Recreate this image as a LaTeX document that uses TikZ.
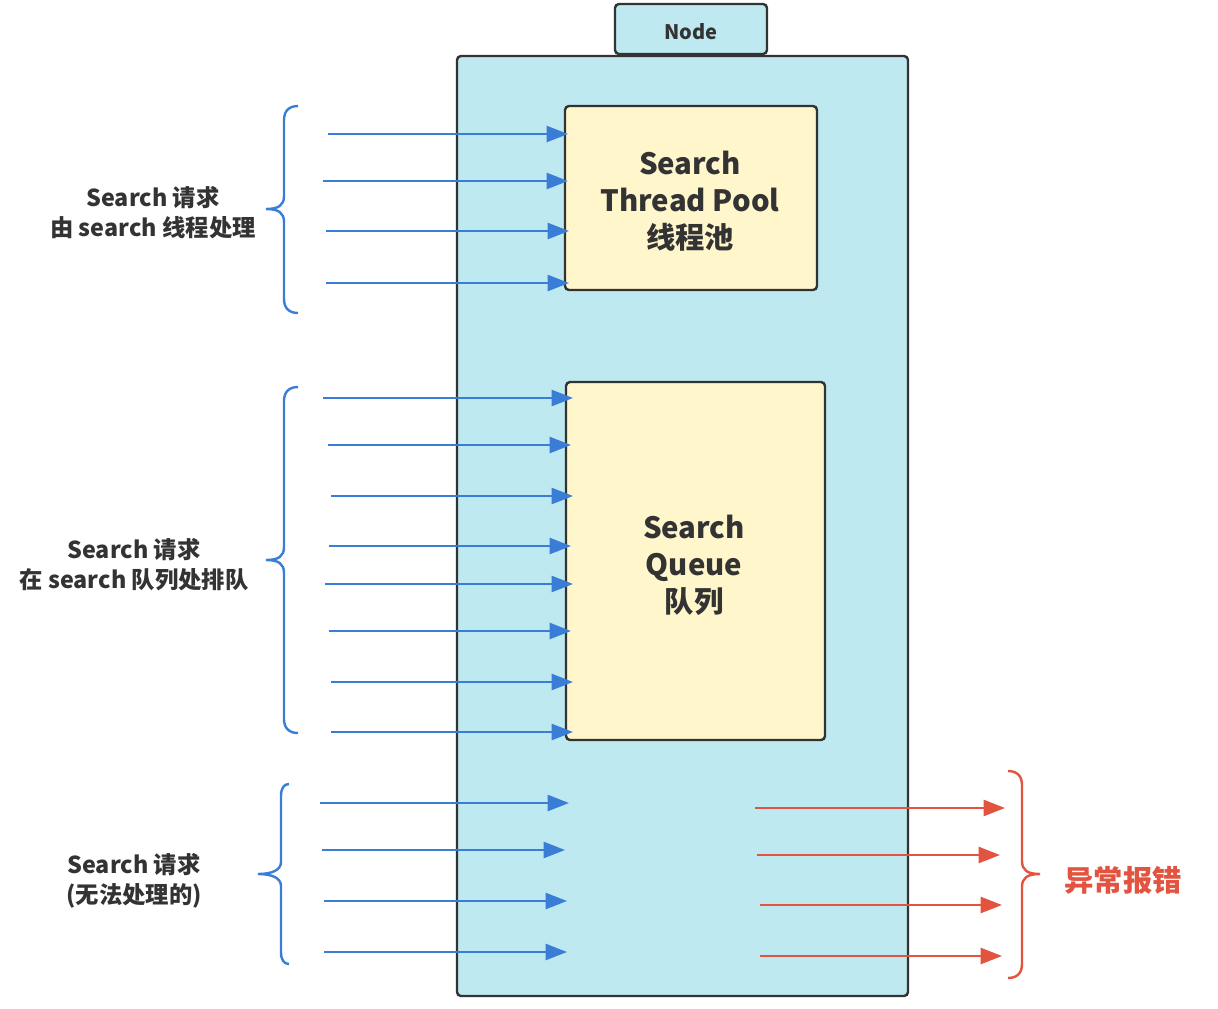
\documentclass[tikz,border=0pt]{standalone}
\usepackage{fontspec}
\setmainfont{Noto Sans CJK SC}
\usetikzlibrary{arrows.meta}

\definecolor{hostcyan}{RGB}{190,233,240}
\definecolor{poolyellow}{RGB}{255,246,204}
\definecolor{edgegray}{RGB}{51,51,51}
\definecolor{reqblue}{RGB}{58,125,214}
\definecolor{rejred}{RGB}{226,83,64}

\tikzset{every picture/.style={line width=0.75pt}}
\tikzset{
  box/.style={draw=edgegray, line width=1.8pt, rounded corners=3pt},
  reqarrow/.style={draw=reqblue, line width=1.8pt, -{Triangle[length=16pt,width=12pt]}, fill=reqblue},
  rejarrow/.style={draw=rejred, line width=1.8pt, -{Triangle[length=16pt,width=12pt]}, fill=rejred},
  reqbrace/.style={draw=reqblue, line width=1.8pt},
  rejbrace/.style={draw=rejred, line width=1.8pt},
  boxtext/.style={font=\bfseries\fontsize{22}{27.75}\selectfont, text=edgegray, align=center},
  sidetext/.style={font=\bfseries\fontsize{17.5}{22.5}\selectfont, text=edgegray, align=center},
}

\begin{document}
\begin{tikzpicture}[x=0.75pt,y=0.75pt,yscale=-1,xscale=1]

\fill [white] (0,0) rectangle (1218,1008) ;
\useasboundingbox (0,0) rectangle (1218,1008) ;

\draw  [box, fill=hostcyan]  (615,4) rectangle (767,54) ;
\draw  [box, fill=hostcyan]  (457,56) rectangle (908,996) ;
\draw  [box, fill=poolyellow]  (565,106) rectangle (817,290) ;
\draw  [box, fill=poolyellow]  (566,382) rectangle (825,740) ;

\node [boxtext, font=\bfseries\fontsize{15}{18}\selectfont] (nodetag) at (691,32) {Node};
\node [boxtext] (pool) at (690,201) {Search\\Thread Pool\\线程池};
\node [boxtext] (queue) at (694,565) {Search\\Queue\\队列};

\node [sidetext] (handled) at (153,213) {Search 请求\\由 search 线程处理};
\node [sidetext] (queued) at (134,565) {Search 请求\\在 search 队列处排队};
\node [sidetext] (refused) at (134,881) {Search 请求\\(无法处理的)};
\node [boxtext, text=rejred] (error) at (1123,880) {异常报错};

\coordinate (p1a) at (328,134) ; \coordinate (p1b) at (568,134) ;
\coordinate (p2a) at (323,181) ; \coordinate (p2b) at (568,181) ;
\coordinate (p3a) at (326,231) ; \coordinate (p3b) at (569,231) ;
\coordinate (p4a) at (326,283) ; \coordinate (p4b) at (569,283) ;

\coordinate (q1a) at (323,398) ; \coordinate (q1b) at (573,398) ;
\coordinate (q2a) at (328,445) ; \coordinate (q2b) at (571,445) ;
\coordinate (q3a) at (331,496) ; \coordinate (q3b) at (573,496) ;
\coordinate (q4a) at (329,546) ; \coordinate (q4b) at (571,546) ;
\coordinate (q5a) at (325,584) ; \coordinate (q5b) at (573,584) ;
\coordinate (q6a) at (329,631) ; \coordinate (q6b) at (571,631) ;
\coordinate (q7a) at (331,682) ; \coordinate (q7b) at (573,682) ;
\coordinate (q8a) at (331,732) ; \coordinate (q8b) at (573,732) ;

\coordinate (r1a) at (320,803) ; \coordinate (r1b) at (569,803) ;
\coordinate (r2a) at (322,850) ; \coordinate (r2b) at (565,850) ;
\coordinate (r3a) at (324,901) ; \coordinate (r3b) at (567,901) ;
\coordinate (r4a) at (324,952) ; \coordinate (r4b) at (567,952) ;

\coordinate (e1a) at (755,808) ; \coordinate (e1b) at (1005,808) ;
\coordinate (e2a) at (757,855) ; \coordinate (e2b) at (1000,855) ;
\coordinate (e3a) at (760,905) ; \coordinate (e3b) at (1002,905) ;
\coordinate (e4a) at (760,956) ; \coordinate (e4b) at (1002,956) ;

\draw  [reqarrow]  (p1a) -- (p1b) ;
\draw  [reqarrow]  (p2a) -- (p2b) ;
\draw  [reqarrow]  (p3a) -- (p3b) ;
\draw  [reqarrow]  (p4a) -- (p4b) ;

\draw  [reqarrow]  (q1a) -- (q1b) ;
\draw  [reqarrow]  (q2a) -- (q2b) ;
\draw  [reqarrow]  (q3a) -- (q3b) ;
\draw  [reqarrow]  (q4a) -- (q4b) ;
\draw  [reqarrow]  (q5a) -- (q5b) ;
\draw  [reqarrow]  (q6a) -- (q6b) ;
\draw  [reqarrow]  (q7a) -- (q7b) ;
\draw  [reqarrow]  (q8a) -- (q8b) ;

\draw  [reqarrow]  (r1a) -- (r1b) ;
\draw  [reqarrow]  (r2a) -- (r2b) ;
\draw  [reqarrow]  (r3a) -- (r3b) ;
\draw  [reqarrow]  (r4a) -- (r4b) ;

\draw  [rejarrow]  (e1a) -- (e1b) ;
\draw  [rejarrow]  (e2a) -- (e2b) ;
\draw  [rejarrow]  (e3a) -- (e3b) ;
\draw  [rejarrow]  (e4a) -- (e4b) ;

\draw  [reqbrace]  (298,106) .. controls (289,106) and (284,111) .. (284,120) -- (284,196) .. controls (284,205) and (279,209) .. (266,209) .. controls (279,209) and (284,213) .. (284,222) -- (284,299) .. controls (284,308) and (289,313) .. (298,313) ;
\draw  [reqbrace]  (298,387) .. controls (289,387) and (284,392) .. (284,401) -- (284,547) .. controls (284,556) and (279,560) .. (266,560) .. controls (279,560) and (284,564) .. (284,573) -- (284,719) .. controls (284,728) and (289,733) .. (298,733) ;
\draw  [reqbrace]  (289,784) .. controls (284,784) and (281,788) .. (281,796) -- (281,862) .. controls (281,870) and (272,874) .. (258,874) .. controls (272,874) and (281,878) .. (281,886) -- (281,952) .. controls (281,960) and (284,964) .. (289,964) ;
\draw  [rejbrace]  (1008,771) .. controls (1017,771) and (1022,776) .. (1022,785) -- (1022,861) .. controls (1022,870) and (1027,874) .. (1040,874) .. controls (1027,874) and (1022,878) .. (1022,887) -- (1022,964) .. controls (1022,973) and (1017,978) .. (1008,978) ;

\end{tikzpicture}
\end{document}
